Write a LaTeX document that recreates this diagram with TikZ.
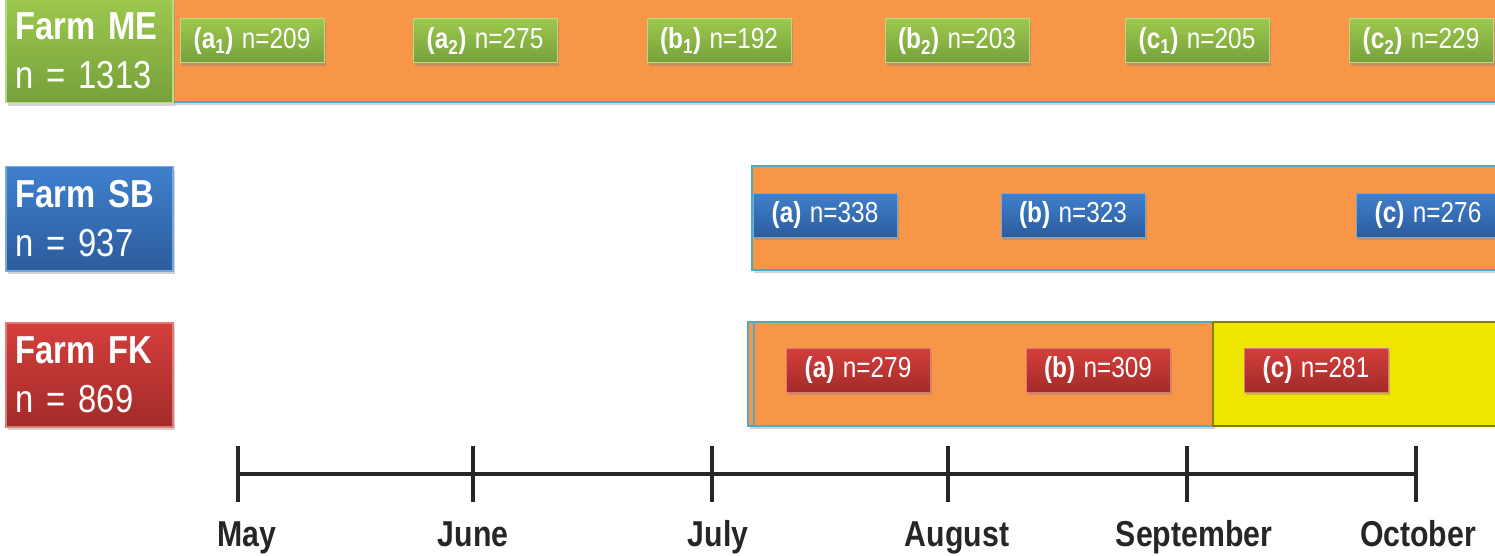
\documentclass[tikz,border=0pt]{standalone}
\usepackage{fontspec}
\setmainfont{Liberation Sans}[FakeStretch=0.84, WordSpace=1.25]
\usetikzlibrary{shadows}

\definecolor{barorange}{HTML}{F79646}
\definecolor{baredge}{HTML}{4BACC6}
\definecolor{baryellow}{HTML}{EEE600}
\definecolor{greentop}{HTML}{9CC84F}
\definecolor{greenbot}{HTML}{76A03A}
\definecolor{bluetop}{HTML}{3F80CE}
\definecolor{bluebot}{HTML}{2C5C9C}
\definecolor{redtop}{HTML}{D43F3B}
\definecolor{redbot}{HTML}{A22B29}

\tikzset{
  farmbox/.style={shade, top color=#1top, bottom color=#1bot, draw=#1top!70!white,
    line width=1.5pt, text=white, anchor=north west, minimum width=167, minimum height=104,
    text width=158, align=left, inner sep=0pt, font=\fontsize{39}{49}\selectfont,
    drop shadow={opacity=0.35, shadow xshift=2pt, shadow yshift=-3pt}},
  samplebox/.style={shade, top color=#1top, bottom color=#1bot, draw=#1top!70!white,
    line width=1pt, text=white, minimum width=144, minimum height=44, inner sep=0pt,
    font=\fontsize{29}{30}\selectfont, drop shadow={opacity=0.4, shadow xshift=2pt, shadow yshift=-3pt}},
  periodbar/.style={fill=barorange, draw=baredge, line width=2pt},
  month/.style={font=\fontsize{36}{38}\selectfont\bfseries, text=black!85, anchor=base}
}

\begin{document}
\begin{tikzpicture}[x=1pt, y=-1pt]
  \useasboundingbox (0,0) rectangle (1495,556);

  % bars behind the sample boxes
  \draw[periodbar, drop shadow={opacity=0.35, shadow xshift=2pt, shadow yshift=-3pt}] (172,-10) rectangle (1505,102);
  \draw[periodbar, drop shadow={opacity=0.35, shadow xshift=2pt, shadow yshift=-3pt}] (752,166) rectangle (1505,270);
  \draw[periodbar, drop shadow={opacity=0.35, shadow xshift=2pt, shadow yshift=-3pt}] (748,322) rectangle (1213,426);
  \draw[baredge, line width=1.5pt] (754,322) -- (754,426);
  \draw[fill=baryellow, draw=black!45!baryellow, line width=1.5pt] (1213,322) rectangle (1505,426);

  % farm boxes
  \node[farmbox=green] (me) at (5,-2) {\hspace*{5pt}\textbf{Farm ME}\\\hspace*{5pt}n = 1313};
  \node[farmbox=blue] (sb) at (5,166) {\hspace*{5pt}\textbf{Farm SB}\\\hspace*{5pt}n = 937};
  \node[farmbox=red] (fk) at (5,322) {\hspace*{5pt}\textbf{Farm FK}\\\hspace*{5pt}n = 869};

  % sample periods, farm ME
  \node[samplebox=green] (mea1) at (252,41) {\textbf{(a\textsubscript{1})} n=209};
  \node[samplebox=green] (mea2) at (485,41) {\textbf{(a\textsubscript{2})} n=275};
  \node[samplebox=green] (meb1) at (719,41) {\textbf{(b\textsubscript{1})} n=192};
  \node[samplebox=green] (meb2) at (957,41) {\textbf{(b\textsubscript{2})} n=203};
  \node[samplebox=green] (mec1) at (1197,41) {\textbf{(c\textsubscript{1})} n=205};
  \node[samplebox=green] (mec2) at (1421,41) {\textbf{(c\textsubscript{2})} n=229};

  % sample periods, farm SB
  \node[samplebox=blue] (sba) at (825,215) {\textbf{(a)} n=338};
  \node[samplebox=blue] (sbb) at (1073,215) {\textbf{(b)} n=323};
  \node[samplebox=blue] (sbc) at (1428,215) {\textbf{(c)} n=276};

  % sample periods, farm FK
  \node[samplebox=red] (fka) at (858,370) {\textbf{(a)} n=279};
  \node[samplebox=red] (fkb) at (1098,370) {\textbf{(b)} n=309};
  \node[samplebox=red] (fkc) at (1316,370) {\textbf{(c)} n=281};

  % time line
  \coordinate (start) at (238,474);
  \coordinate (end) at (1416,474);
  \draw[line width=4pt, black!85] (start) -- (end);
  \foreach \x/\lx/\m in {238/247/May, 473/473/June, 712/718/July, 948/957/August, 1187/1194/September, 1416/1418/October}{
    \draw[line width=4pt, black!85] (\x,446) -- (\x,502);
    \node[month] (m\m) at (\lx,546) {\m};
  }
\end{tikzpicture}
\end{document}
